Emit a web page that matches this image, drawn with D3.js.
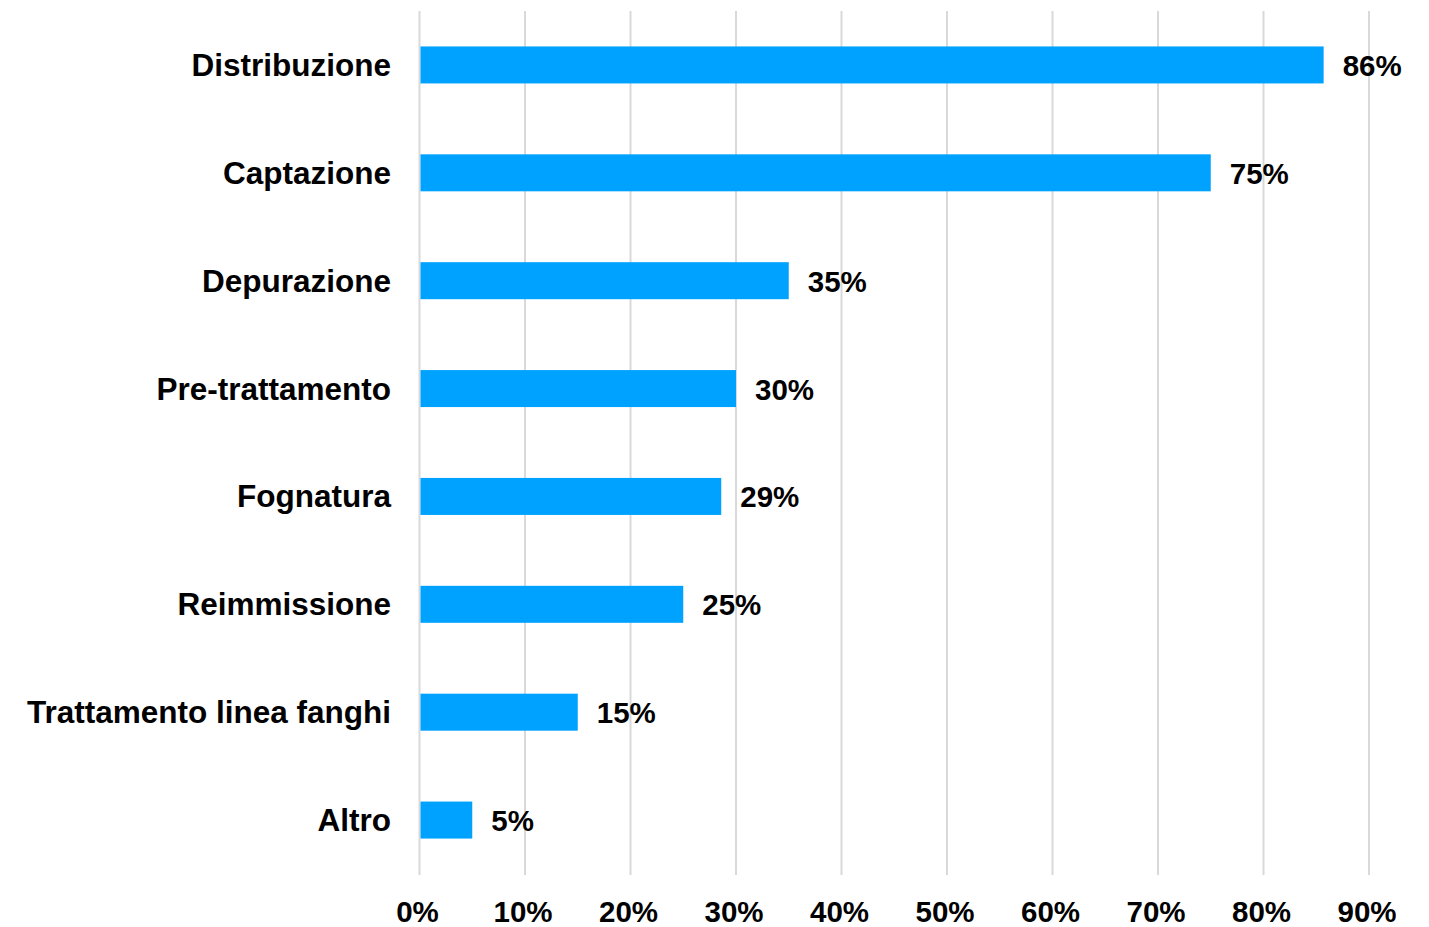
<!DOCTYPE html>
<html>
<head>
<meta charset="utf-8">
<script src="https://cdn.jsdelivr.net/npm/d3@7"></script>
<style>
  html, body { margin: 0; padding: 0; background: #fff; }
  svg text { font-family: "Liberation Sans", Arial, sans-serif; font-weight: bold; fill: #000; }
</style>
</head>
<body>
<svg width="1429" height="927"></svg>
<script>
// data
const categories = ["Distribuzione", "Captazione", "Depurazione", "Pre-trattamento",
  "Fognatura", "Reimmissione", "Trattamento linea fanghi", "Altro"];
const values = [0.857, 0.75, 0.35, 0.30, 0.286, 0.25, 0.15, 0.05];
const tickValues = [0, 0.1, 0.2, 0.3, 0.4, 0.5, 0.6, 0.7, 0.8, 0.9];

const svg = d3.select("svg");
const numSize = 29.5;
const catSize = 31.5;

const xScale = d3.scaleLinear()
  .domain([0, 0.9])
  .range([419.5, 1369]);

const yScale = d3.scaleBand()
  .domain(categories)
  .range([11, 874])
  .paddingInner(0.657)
  .paddingOuter(0.3285);

const fmt = d3.format(".0%");

// gridlines
svg.append("g")
  .selectAll("line")
  .data(tickValues)
  .enter()
  .append("line")
  .attr("x1", d => xScale(d))
  .attr("x2", d => xScale(d))
  .attr("y1", 11)
  .attr("y2", 875)
  .attr("stroke", "#d9d9d9")
  .attr("stroke-width", 2);

// x tick labels
svg.append("g")
  .selectAll("text")
  .data(tickValues)
  .enter()
  .append("text")
  .attr("x", d => xScale(d) - 2)
  .attr("y", 922)
  .attr("text-anchor", "middle")
  .style("font-size", numSize + "px")
  .text(d => fmt(d));

// bars
svg.append("g")
  .selectAll("rect")
  .data(values)
  .enter()
  .append("rect")
  .attr("x", xScale(0) + 1)
  .attr("y", (d, i) => yScale(categories[i]))
  .attr("width", d => xScale(d) - xScale(0) - 1)
  .attr("height", yScale.bandwidth())
  .attr("fill", "#00a2ff");

// category labels
svg.append("g")
  .selectAll("text")
  .data(categories)
  .enter()
  .append("text")
  .attr("x", 391)
  .attr("y", d => yScale(d) + yScale.bandwidth() / 2 + 11)
  .attr("text-anchor", "end")
  .style("font-size", catSize + "px")
  .text(d => d);

// value labels
svg.append("g")
  .selectAll("text")
  .data(values)
  .enter()
  .append("text")
  .attr("x", d => xScale(d) + 19)
  .attr("y", (d, i) => yScale(categories[i]) + yScale.bandwidth() / 2 + 11)
  .style("font-size", numSize + "px")
  .text(d => fmt(d));
</script>
</body>
</html>
